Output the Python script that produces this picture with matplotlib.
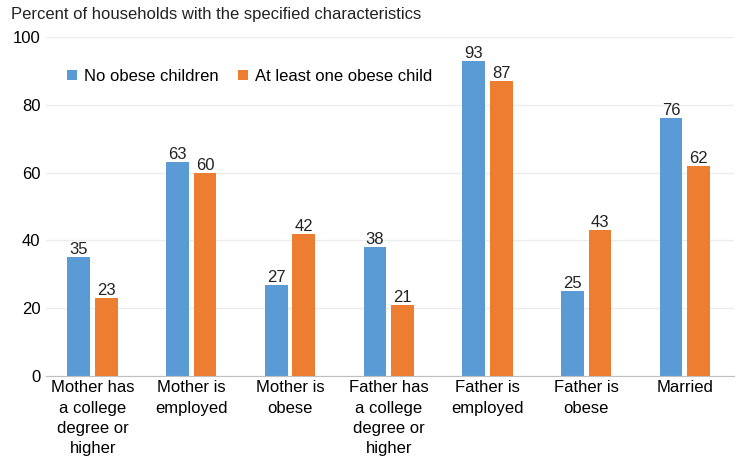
import numpy as np
import matplotlib.pyplot as plt

plt.rcParams['font.family'] = ['Liberation Sans', 'DejaVu Sans']

categories = ['Mother has\na college\ndegree or\nhigher', 'Mother is\nemployed',
              'Mother is\nobese', 'Father has\na college\ndegree or\nhigher',
              'Father is\nemployed', 'Father is\nobese', 'Married']
no_obese = [35, 63, 27, 38, 93, 25, 76]
obese_child = [23, 60, 42, 21, 87, 43, 62]

blue = '#5b9bd5'
orange = '#ed7d31'

fig = plt.figure(figsize=(7.4, 4.62), dpi=100)
ax = fig.add_axes([0.062, 0.186, 0.93, 0.734])

x = np.arange(len(categories))
w = 0.23
b1 = ax.bar(x - 0.14, no_obese, w, color=blue, label='No obese children')
b2 = ax.bar(x + 0.14, obese_child, w, color=orange, label='At least one obese child')
ax.bar_label(b1, fontsize=12, padding=0, color='#222222')
ax.bar_label(b2, fontsize=12, padding=0, color='#222222')

ax.set_xlim(-0.474, 6.5)
ax.set_ylim(0, 100)
ax.set_yticks(range(0, 101, 20))
ax.set_xticks(x)
ax.set_xticklabels(categories, fontsize=12, linespacing=1.45)
ax.tick_params(axis='y', labelsize=12, length=0, pad=4)
ax.tick_params(axis='x', length=0, pad=3)
ax.grid(axis='y', color='#ececec', linewidth=1)
ax.set_axisbelow(True)
for s in ['top', 'right', 'left']:
    ax.spines[s].set_visible(False)
ax.spines['bottom'].set_color('#bfbfbf')

ax.legend(loc='upper left', bbox_to_anchor=(0.009, 0.95), ncol=2, frameon=False,
          fontsize=12, handlelength=0.6, handleheight=0.6, handletextpad=0.4,
          columnspacing=1.2)

fig.text(0.015, 0.958, 'Percent of households with the specified characteristics',
         fontsize=12, color='#222222')

fig.savefig('out.png', dpi=100)
